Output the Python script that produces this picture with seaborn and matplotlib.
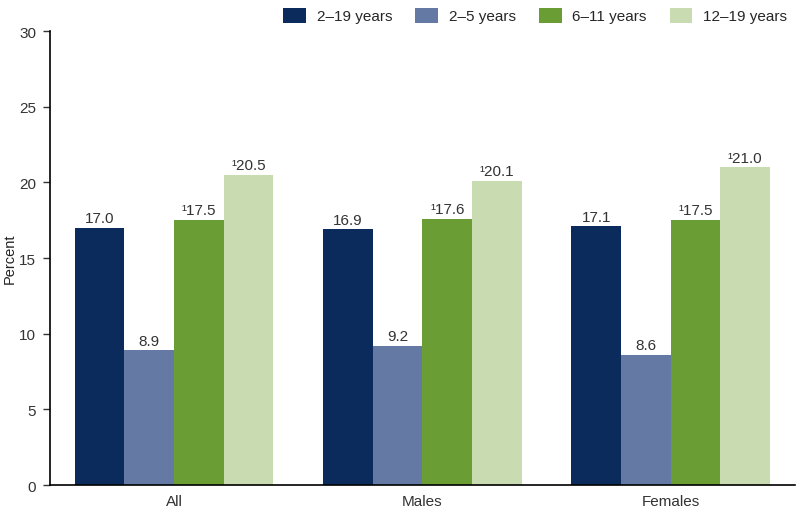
import matplotlib
matplotlib.use("Agg")
import matplotlib.pyplot as plt
import seaborn as sns
import pandas as pd

groups = ["All", "Males", "Females"]
age_groups = ["2\u201319 years", "2\u20135 years", "6\u201311 years", "12\u201319 years"]
values = {
    "2\u201319 years": [17.0, 16.9, 17.1],
    "2\u20135 years": [8.9, 9.2, 8.6],
    "6\u201311 years": [17.5, 17.6, 17.5],
    "12\u201319 years": [20.5, 20.1, 21.0],
}
# trend footnote marker shown before these bars' values
flagged = ["6\u201311 years", "12\u201319 years"]
colores = ["#0b2b5c", "#6479a3", "#6b9d35", "#c9dcb1"]

rows = []
for ag in age_groups:
    for g, v in zip(groups, values[ag]):
        rows.append({"grupo": g, "edad": ag, "pct": v})
df = pd.DataFrame(rows)

sns.set_style("white")
plt.rcParams["font.family"] = ["Liberation Sans", "DejaVu Sans"]

fig = plt.figure(figsize=(8, 5.1), dpi=100)
ax = fig.add_axes([0.0625, 0.047, 0.931, 0.89])
sns.barplot(data=df, x="grupo", y="pct", hue="edad", order=groups,
            hue_order=age_groups, palette=colores, width=0.8, saturation=1,
            linewidth=0, ax=ax)

for cont, ag in zip(ax.containers, age_groups):
    pref = "\u00b9" if ag in flagged else ""
    ax.bar_label(cont, labels=[pref + f"{v:.1f}" for v in values[ag]],
                 padding=2, fontsize=11, color="#333333")

ax.set_ylim(0, 30)
ax.set_xlim(-0.5, 2.5)
ax.set_yticks(range(0, 31, 5))
ax.set_xlabel("")
ax.set_ylabel("Percent", fontsize=10.5, color="#222222")
ax.yaxis.set_label_coords(-0.045, 0.5)
ax.tick_params(axis="y", left=True, length=5, width=1, labelsize=11,
               colors="#333333", pad=5)
ax.tick_params(axis="x", bottom=False, labelsize=11, colors="#333333", pad=3)
for s in ["top", "right"]:
    ax.spines[s].set_visible(False)
for s in ["left", "bottom"]:
    ax.spines[s].set_color("black")
    ax.spines[s].set_linewidth(1.2)

ax.legend(loc="lower right", bbox_to_anchor=(1.0, 1.0), ncol=4, frameon=False,
          fontsize=11, handlelength=1.5, handleheight=1.1, columnspacing=1.5,
          borderaxespad=0.1, handletextpad=0.7)

fig.savefig("out.png", dpi=100)
